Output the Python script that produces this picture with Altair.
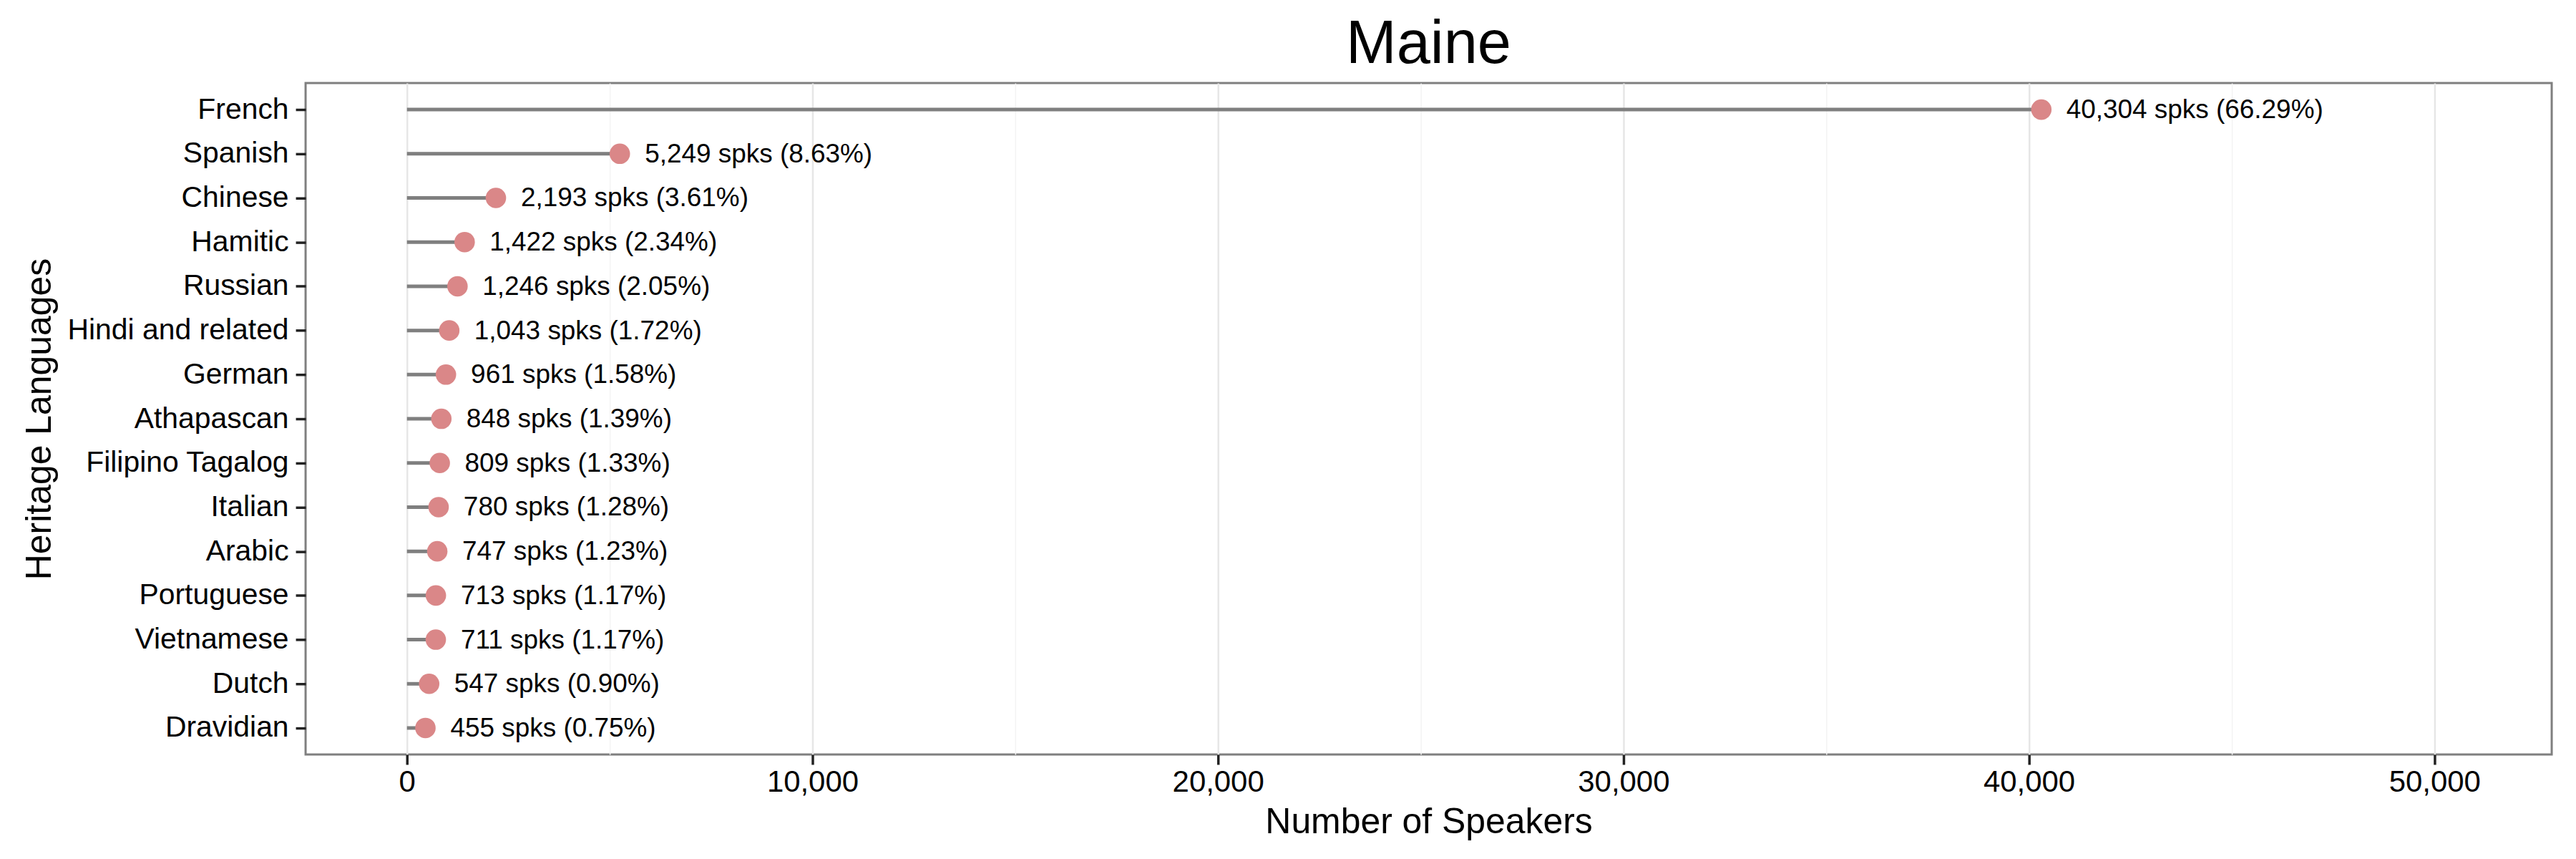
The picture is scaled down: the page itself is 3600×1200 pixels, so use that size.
import altair as alt
import pandas as pd

languages = ["French", "Spanish", "Chinese", "Hamitic", "Russian", "Hindi and related",
             "German", "Athapascan", "Filipino Tagalog", "Italian", "Arabic",
             "Portuguese", "Vietnamese", "Dutch", "Dravidian"]
speakers = [40304, 5249, 2193, 1422, 1246, 1043, 961, 848, 809, 780, 747, 713, 711, 547, 455]
percents = [66.29, 8.63, 3.61, 2.34, 2.05, 1.72, 1.58, 1.39, 1.33, 1.28, 1.23, 1.17, 1.17, 0.90, 0.75]
x_ticks = [0, 5000, 10000, 15000, 20000, 25000, 30000, 35000, 40000, 45000, 50000]

df = pd.DataFrame({"language": languages, "speakers": speakers, "pct": percents})
df["label"] = [f"{s:,} spks ({p:.2f}%)" for s, p in zip(speakers, percents)]
df["zero"] = 0

FONT = "Liberation Sans"
major = "datum.value % 10000 === 0"
W, H = 3146, 940

x_scale = alt.Scale(domain=[-2500, 52890], nice=False, zero=False)
x_axis = alt.Axis(
    values=x_ticks,
    labelExpr=f"{major} ? format(datum.value, ',') : ''",
    grid=True,
    gridColor={"condition": {"test": major, "value": "#E6E6E6"}, "value": "#F3F3F3"},
    gridWidth={"condition": {"test": major, "value": 2.5}, "value": 1.5},
    tickOpacity={"condition": {"test": major, "value": 1}, "value": 0},
    tickSize=14, tickWidth=3.5, tickColor="#222222",
    labelFontSize=42, labelPadding=5, labelColor="black", labelFont=FONT,
    domain=False,
    titleFontSize=50, titleFont=FONT, titleFontWeight="normal", titleColor="black",
    titlePadding=10,
)
y_axis = alt.Axis(
    grid=False, domain=False,
    tickSize=14, tickWidth=3.5, tickColor="#222222",
    labelFontSize=41, labelPadding=10, labelColor="black", labelFont=FONT,
    labelLimit=500,
    titleFontSize=50, titleFont=FONT, titleFontWeight="normal", titleColor="black",
    titleAngle=270, titleBaseline="alphabetic", titleAlign="center",
    titleX=-357, titleY=H / 2,
)
y_enc = alt.Y("language:N", sort=languages, scale=alt.Scale(type="point", padding=0.6),
              axis=y_axis, title="Heritage Languages")

base = alt.Chart(df)

rules = base.mark_rule(color="#7F7F7F", strokeWidth=5).encode(
    x=alt.X("zero:Q", scale=x_scale, axis=x_axis, title="Number of Speakers"),
    x2="speakers:Q",
    y=y_enc,
)
points = base.mark_circle(color="#DA8788", opacity=1, size=820).encode(
    x=alt.X("speakers:Q", scale=x_scale, axis=x_axis, title="Number of Speakers"),
    y=y_enc,
)
texts = base.mark_text(align="left", baseline="middle", dx=35, dy=1, fontSize=37,
                       font=FONT, color="black").encode(
    x=alt.X("speakers:Q", scale=x_scale, axis=x_axis, title="Number of Speakers"),
    y=y_enc,
    text="label:N",
)

chart = alt.layer(rules, points, texts).properties(
    width=W, height=H,
    title=alt.TitleParams("Maine", fontSize=85, font=FONT, fontWeight="normal",
                          color="black", anchor="middle", frame="group", offset=10),
    autosize=alt.AutoSizeParams(type="none"),
    padding={"left": 420, "top": 107, "right": 26, "bottom": 145},
).configure(
    background="white",
    view=alt.ViewConfig(stroke="#7F7F7F", strokeWidth=3),
)

chart.save("out.html", embed_options={"renderer": "svg", "actions": False})
